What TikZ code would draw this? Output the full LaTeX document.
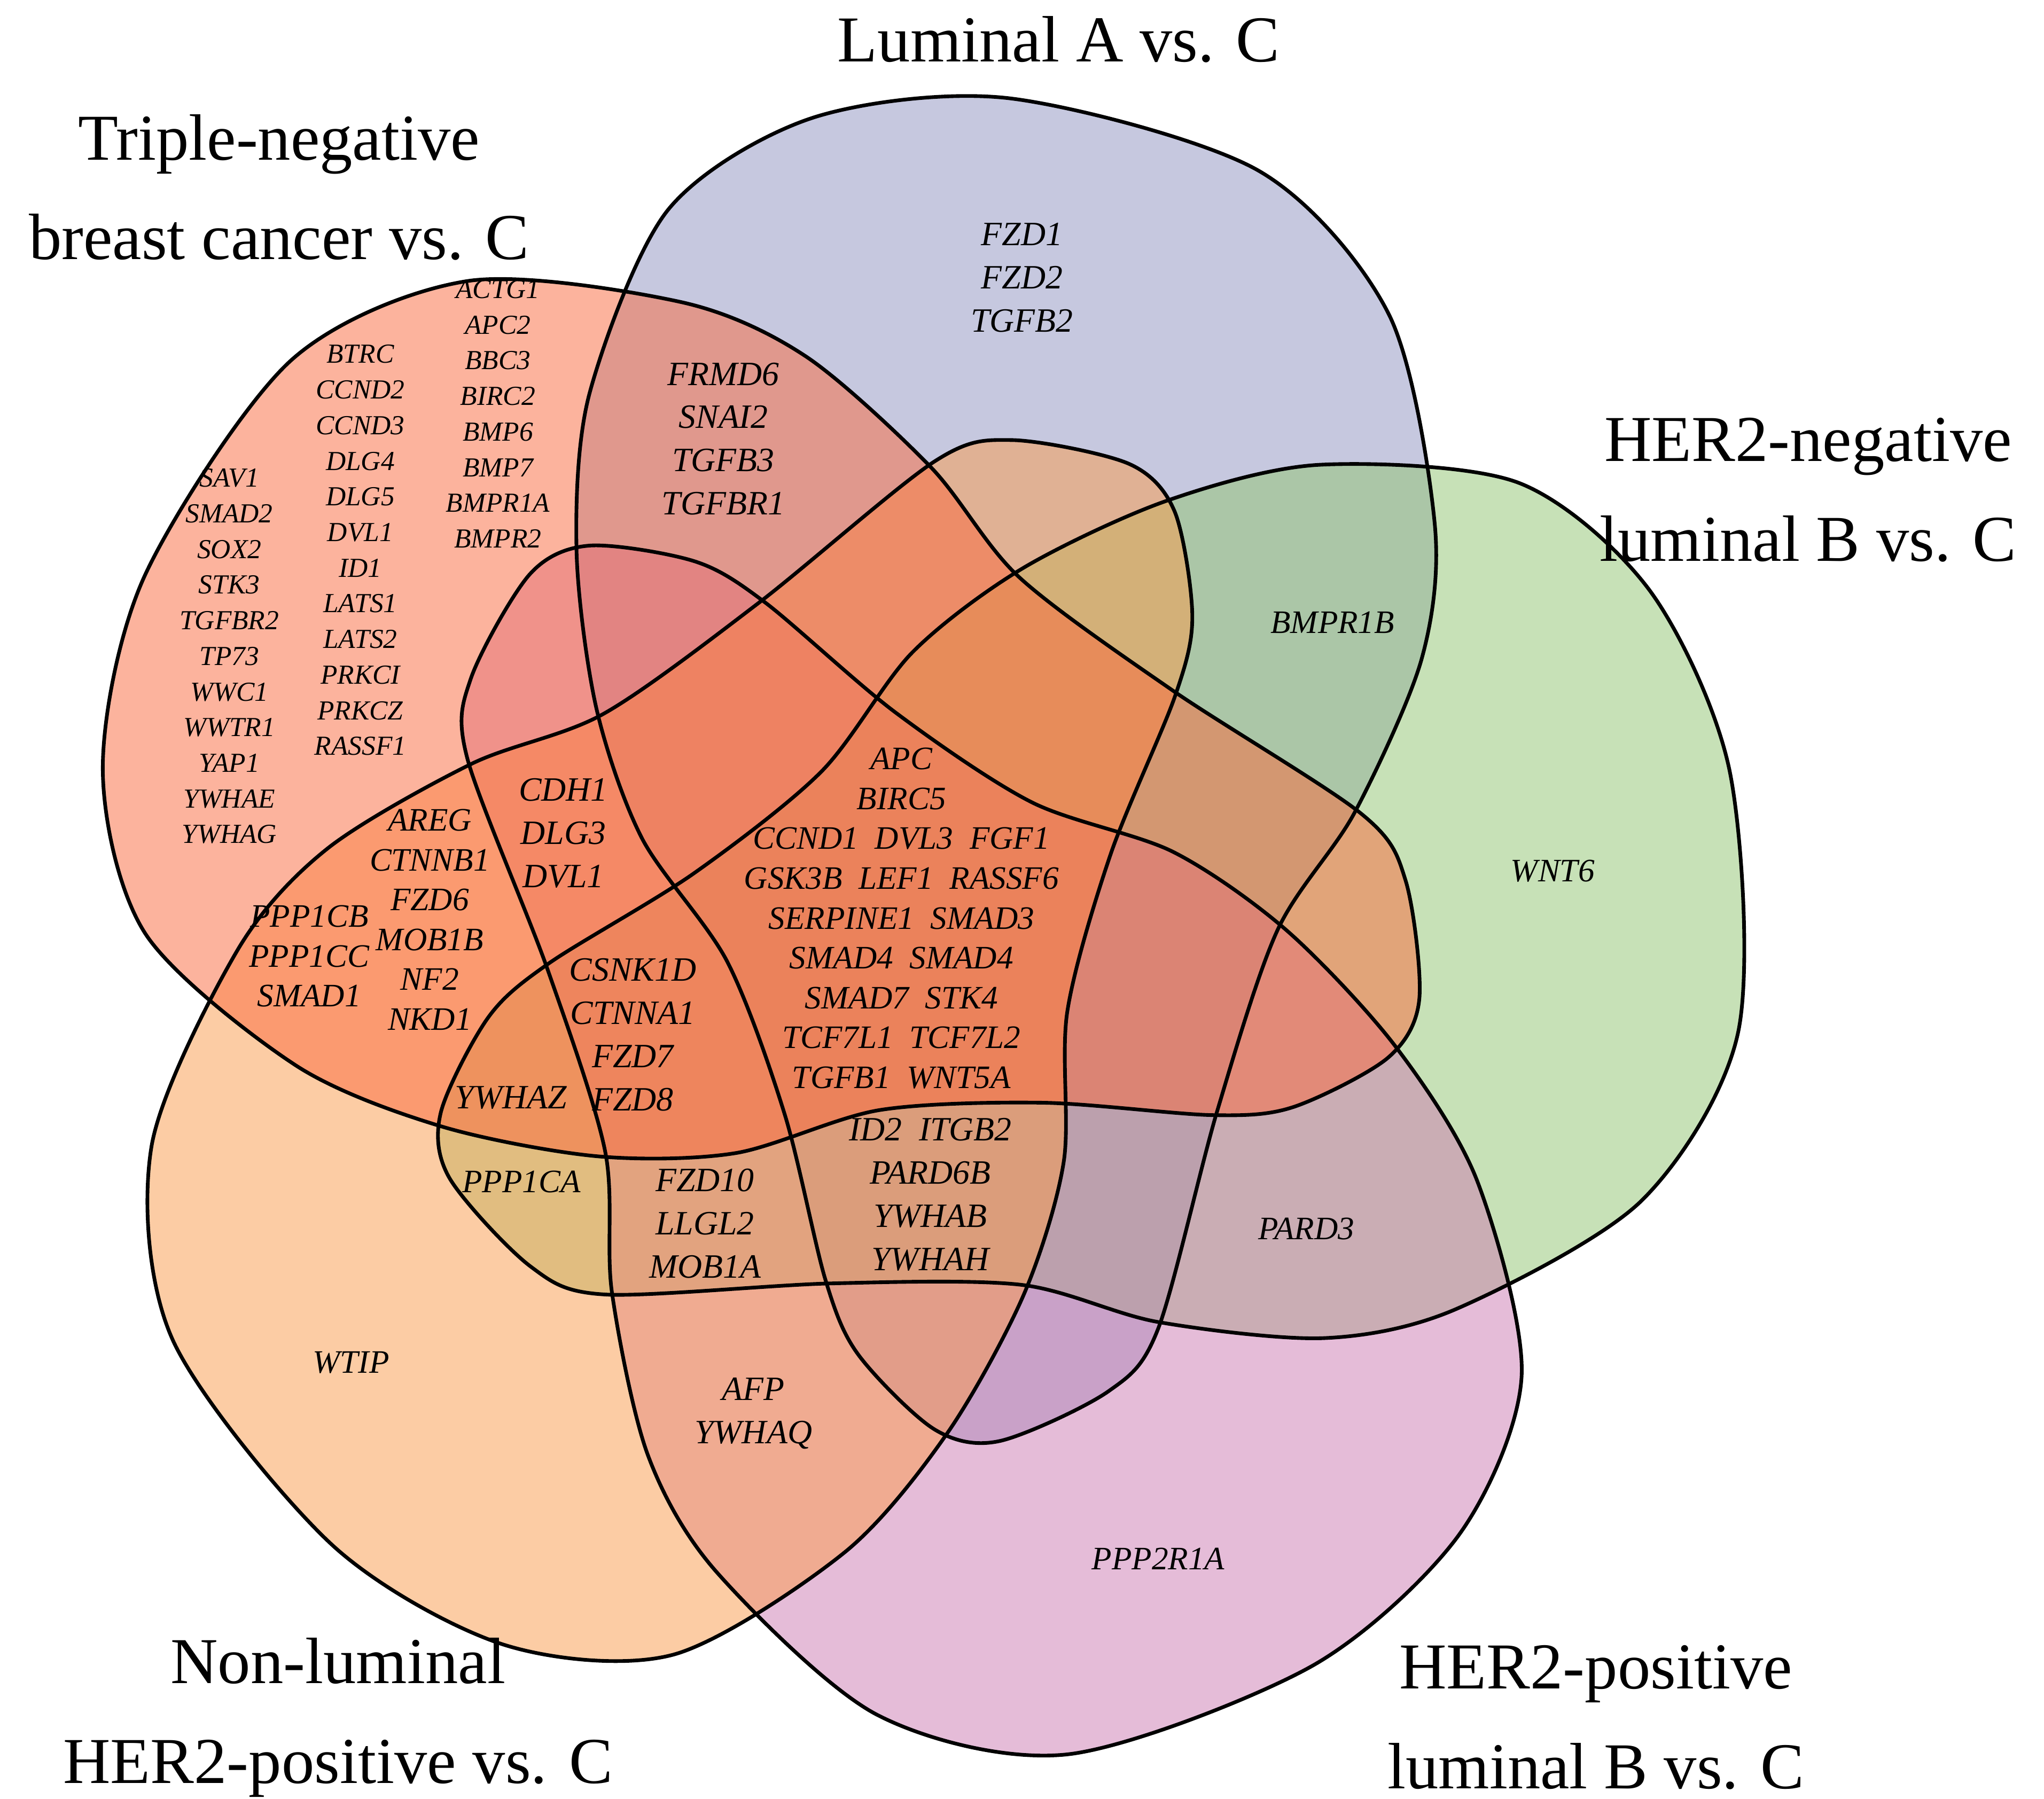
\documentclass[tikz,border=0pt]{standalone}
\usepackage{fontspec}
\setmainfont{Liberation Serif}
\definecolor{cBlue}{RGB}{143,147,193}
\definecolor{cGreen}{RGB}{145,197,113}
\definecolor{cPink}{RGB}{205,123,179}
\definecolor{cOrange}{RGB}{251,155,75}
\definecolor{cSalmon}{RGB}{251,105,61}
\tikzset{
  title/.style={align=center,font=\fontsize{50}{76}\selectfont},
  gs/.style={align=center,font=\fontsize{21}{27.2}\selectfont\itshape},
  gm/.style={align=center,font=\fontsize{25}{30.4}\selectfont\itshape},
  gl/.style={align=center,font=\fontsize{26}{33}\selectfont\itshape},
  outl/.style={draw=black,line width=2.8pt},
}
\begin{document}
\begin{tikzpicture}[x=1pt,y=1pt]
\useasboundingbox (0,0) rectangle (1560,1373);
\fill[white] (0,0) rectangle (1560,1373);
\foreach \k/\col in {0/cBlue,1/cGreen,2/cPink,3/cOrange,4/cSalmon}{
\begin{scope}[shift={(691,662)},rotate=-72*\k]
\fill[\col,fill opacity=0.5] plot[smooth cycle] coordinates {(79,636) (269,581) (369,471) (404,311) (394,208) (343,91) (284,1) (238,-137) (193,-303) (155,-351) (72,-389) (22,-380) (-36,-323) (-61,-266) (-92,-140) (-136,-23) (-201,71) (-236,171) (-251,291) (-241,411) (-181,551) (-71,621)};
\end{scope}}
\foreach \k in {0,1,2,3,4}{
\begin{scope}[shift={(691,662)},rotate=-72*\k]
\draw[outl] plot[smooth cycle] coordinates {(79,636) (269,581) (369,471) (404,311) (394,208) (343,91) (284,1) (238,-137) (193,-303) (155,-351) (72,-389) (22,-380) (-36,-323) (-61,-266) (-92,-140) (-136,-23) (-201,71) (-236,171) (-251,291) (-241,411) (-181,551) (-71,621)};
\end{scope}}
% titles
\node[title] (t1) at (808,1343) {Luminal A vs. C};
\node[title] (t2) at (213,1230) {Triple-negative\\breast cancer vs. C};
\node[title] (t3) at (1380,999) {HER2-negative\\luminal B vs. C};
\node[title] (t4) at (258,62) {Non-luminal\\HER2-positive vs. C};
\node[title] (t5) at (1218,62) {HER2-positive\\luminal B vs. C};
% genes
\node[gl] (g1) at (780,1161) {FZD1\\FZD2\\TGFB2};
\node[gl] (g2) at (552,1038) {FRMD6\\SNAI2\\TGFB3\\TGFBR1};
\node[gs] (g3) at (380,1057) {ACTG1\\APC2\\BBC3\\BIRC2\\BMP6\\BMP7\\BMPR1A\\BMPR2};
\node[gs] (g4) at (275,953) {BTRC\\CCND2\\CCND3\\DLG4\\DLG5\\DVL1\\ID1\\LATS1\\LATS2\\PRKCI\\PRKCZ\\RASSF1};
\node[gs] (g5) at (175,872) {SAV1\\SMAD2\\SOX2\\STK3\\TGFBR2\\TP73\\WWC1\\WWTR1\\YAP1\\YWHAE\\YWHAG};
\node[gm] (g6) at (1017,898) {BMPR1B};
\node[gm] (g7) at (1185,708) {WNT6};
\node[gl] (g8) at (430,737) {CDH1\\DLG3\\DVL1};
\node[gm] (g9) at (328,671) {AREG\\CTNNB1\\FZD6\\MOB1B\\NF2\\NKD1};
\node[gm] (g10) at (236,643) {PPP1CB\\PPP1CC\\SMAD1};
\node[gm] (g11) at (688,672) {APC\\BIRC5\\CCND1\ \ DVL3\ \ FGF1\\GSK3B\ \ LEF1\ \ RASSF6\\SERPINE1\ \ SMAD3\\SMAD4\ \ SMAD4\\SMAD7\ \ STK4\\TCF7L1\ \ TCF7L2\\TGFB1\ \ WNT5A};
\node[gl] (g12) at (483,583) {CSNK1D\\CTNNA1\\FZD7\\FZD8};
\node[gl] (g13) at (390,535) {YWHAZ};
\node[gm] (g14) at (398,471) {PPP1CA};
\node[gl] (g15) at (538,439) {FZD10\\LLGL2\\MOB1A};
\node[gl] (g16) at (710,461) {ID2\ \ ITGB2\\PARD6B\\YWHAB\\YWHAH};
\node[gm] (g17) at (997,435) {PARD3};
\node[gm] (g18) at (268,333) {WTIP};
\node[gl] (g19) at (575,294) {AFP\\YWHAQ};
\node[gm] (g20) at (884,183) {PPP2R1A};
\end{tikzpicture}
\end{document}
